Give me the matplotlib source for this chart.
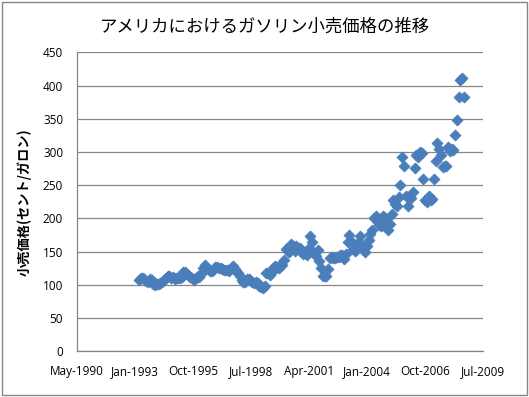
import matplotlib
matplotlib.use("Agg")
import matplotlib.pyplot as plt
import pandas as pd
from matplotlib.patches import Rectangle

plt.rcParams['font.family'] = ['Noto Sans CJK JP', 'DejaVu Sans']

title = "アメリカにおけるガソリン小売価格の推移"
ylabel = "小売価格(セント/ガロン)"

start_month = "1993-04"
# monthly retail price, cents per gallon (Apr 1993 - Aug 2008)
prices = [
    # 1993 Apr-Dec
    108, 110, 110, 108, 106, 105, 109, 107, 101,
    # 1994
    100, 101, 101, 103, 105, 108, 110, 114, 113, 111, 112, 109,
    # 1995
    111, 110, 110, 112, 119, 119, 116, 113, 112, 110, 108, 110,
    # 1996
    113, 112, 117, 125, 130, 126, 124, 121, 121, 123, 127, 127,
    # 1997
    126, 126, 124, 123, 123, 123, 121, 125, 128, 124, 121, 118,
    # 1998
    113, 108, 104, 105, 109, 109, 108, 105, 103, 104, 103, 99,
    # 1999
    97, 96, 99, 118, 118, 115, 119, 126, 128, 127, 126, 130,
    # 2000
    130, 137, 154, 151, 150, 162, 159, 151, 158, 156, 156, 149,
    # 2001
    147, 148, 145, 156, 173, 164, 148, 143, 153, 136, 126, 113,
    # 2002
    114, 113, 124, 141, 142, 140, 141, 142, 142, 145, 145, 139,
    # 2003
    147, 164, 175, 166, 154, 151, 152, 163, 173, 160, 154, 149,
    # 2004
    159, 167, 177, 183, 201, 204, 194, 190, 189, 203, 201, 188,
    # 2005
    182, 192, 207, 228, 222, 218, 232, 251, 293, 279, 234, 219,
    # 2006
    232, 231, 240, 276, 295, 292, 300, 299, 259, 227, 224, 233,
    # 2007
    227, 229, 259, 286, 313, 305, 296, 278, 279, 279, 307, 302,
    # 2008
    305, 303, 326, 348, 382, 409, 411, 383,
]

tick_dates = ["1990-05-07", "1993-01-31", "1995-10-28", "1998-07-24",
              "2001-04-19", "2004-01-14", "2006-10-11", "2009-07-08"]
tick_labels = ["May-1990", "Jan-1993", "Oct-1995", "Jul-1998",
               "Apr-2001", "Jan-2004", "Oct-2006", "Jul-2009"]
y_ticks = [0, 50, 100, 150, 200, 250, 300, 350, 400, 450]

dates = pd.date_range(start=start_month + "-01", periods=len(prices), freq="MS") + pd.Timedelta(days=14)

fig = plt.figure(figsize=(5.29, 3.97), dpi=100)
fig.patches.append(Rectangle((0.004, 0.006), 0.992, 0.99, transform=fig.transFigure,
                             fill=False, edgecolor="#868686", linewidth=1.0))
ax = fig.add_axes([0.1456, 0.1151, 0.7674, 0.7532])

ax.scatter(dates, prices, marker="D", s=32, color="#4A7EBB", edgecolors="#4A7EBB",
           linewidths=0.5, zorder=3)

xt = pd.to_datetime(tick_dates)
ax.set_xlim(xt[0], xt[-1])
ax.set_xticks(xt)
ax.set_xticklabels(tick_labels)
ax.set_ylim(0, 450)
ax.set_yticks(y_ticks)
ax.yaxis.grid(True, color="#868686", linewidth=0.9)
ax.set_axisbelow(True)

for s in ["top", "right"]:
    ax.spines[s].set_visible(False)
for s in ["left", "bottom"]:
    ax.spines[s].set_color("#868686")
    ax.spines[s].set_linewidth(0.9)

ax.tick_params(axis="both", length=0, labelsize=8.5, colors="black", pad=10)
for lab in ax.get_xticklabels() + ax.get_yticklabels():
    lab.set_family(["Open Sans", "DejaVu Sans"])
ax.tick_params(axis="x", pad=10)

ax.set_ylabel(ylabel, fontsize=9.5, fontweight="bold", labelpad=8)
fig.text(0.5, 0.934, title, ha="center", va="center", fontsize=12.5)

fig.savefig("out.png", dpi=100)
